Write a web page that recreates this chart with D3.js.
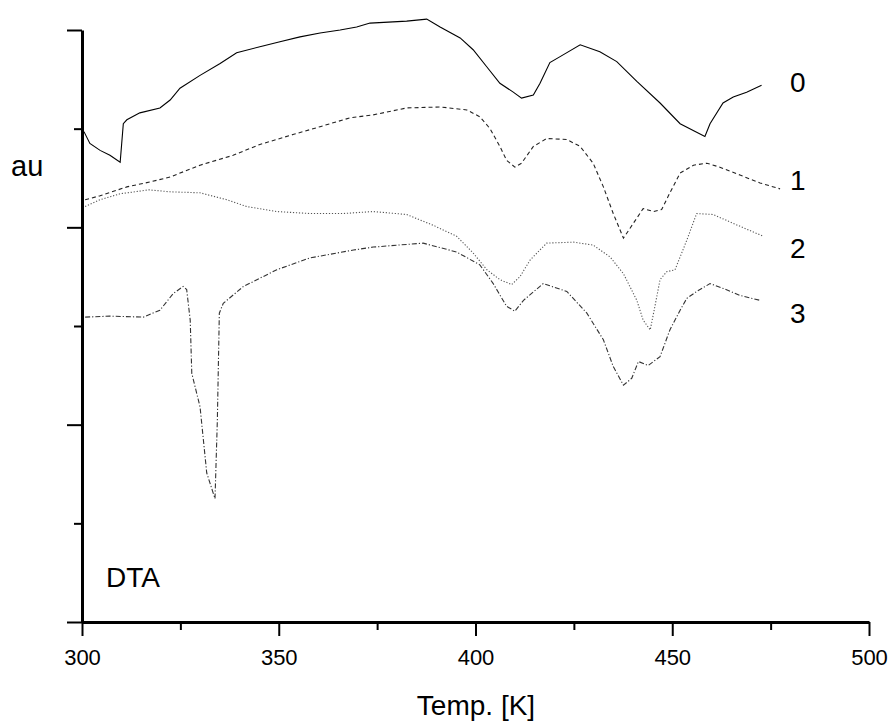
<!DOCTYPE html>
<html>
<head>
<meta charset="utf-8">
<script src="https://cdn.jsdelivr.net/npm/d3@7"></script>
<style>
  body { margin: 0; background: #fff; }
  svg { display: block; }
  text { font-family: "Liberation Sans", Arial, sans-serif; fill: #000; }
</style>
</head>
<body>
<div id="chart"></div>
<script>
// DTA curves, [temperature K, signal au]
var curve0 = [[300.5,49.7],[302,48.5],[304.6,47.8],[307.1,47.3],[309.7,46.6],[310.5,50.5],[311.4,50.9],
  [314.7,51.6],[319.8,52.1],[322.4,52.9],[324.9,54.1],[330,55.4],[335.1,56.6],[339.3,57.7],[345.2,58.3],
  [350.3,58.8],[355.4,59.3],[360.5,59.7],[365.6,60.0],[369.8,60.3],[373.2,60.7],[382.5,60.9],[387.6,61.1],
  [391,60.3],[396.1,59.2],[399.4,58.0],[402.8,56.3],[406.2,54.6],[409.6,53.7],[411.7,53.1],[414.7,53.4],
  [416.4,54.6],[418.9,56.7],[421.5,57.3],[426.6,58.5],[431.6,57.8],[435.9,56.8],[441,54.8],[446.9,52.6],
  [452,50.5],[458.3,49.2],[459.6,50.5],[462.9,52.6],[465.5,53.2],[468.9,53.7],[472.7,54.4]];

var curve1 = [[300.8,42.8],[304.6,43.2],[311.4,44.1],[317.3,44.6],[322.4,45.1],[330,46.3],[338.4,47.3],
  [345.2,48.4],[353.6,49.4],[360.5,50.2],[368.1,51.1],[374,51.4],[382.5,52.1],[391,52.2],[397.8,51.9],
  [401.1,51.2],[403.7,50.0],[406.2,48.2],[407.9,46.8],[410,46.1],[411.7,46.5],[414.7,48.2],[418.1,49.0],
  [423.2,48.9],[426.6,48.2],[429.9,46.5],[432.5,44.1],[435,41.4],[437.6,38.9],[440.1,40.4],[442.6,41.9],
  [445.2,41.6],[447.3,41.8],[449.4,43.5],[452,45.5],[455.4,46.3],[458.8,46.5],[462.1,46.1],[467.2,45.3],
  [472.3,44.5],[477.4,43.9]];

var curve2 = [[300.8,42.1],[304.6,42.8],[309.7,43.4],[317,43.8],[322.4,43.6],[330,43.5],[336.8,42.8],
  [341.9,42.1],[349.5,41.6],[357.9,41.4],[366.4,41.4],[374,41.6],[382.5,41.3],[389.3,40.2],[395.2,39.1],
  [399.4,37.4],[402.9,35.7],[406.2,34.7],[409.2,34.2],[411.3,35.0],[413.9,36.7],[418.1,38.4],[424.9,38.5],
  [429.9,38.2],[434.2,37.0],[437.6,35.3],[441,32.6],[442.6,30.6],[444.4,29.6],[445.6,32.0],[446.9,34.7],
  [448.6,35.5],[450.7,35.7],[452,37.0],[453.7,38.7],[456.2,41.4],[460.4,41.3],[465.5,40.4],[473.1,39.1]];

var curve3 = [[300.8,30.9],[307.1,31.0],[315.6,30.9],[319.8,31.6],[323.2,33.3],[325.7,34.0],[326.6,33.7],
  [327.5,30.6],[327.9,25.2],[330,21.8],[331.7,15.1],[333.8,12.5],[334.4,20.5],[334.9,31.3],[335.9,32.3],
  [341,34.0],[349.5,35.7],[357.9,36.9],[369,37.7],[374,38.0],[386.7,38.4],[395.2,37.5],[401.1,36.2],
  [404.5,34.3],[407.9,32.0],[410,31.5],[412.2,32.6],[417.2,34.3],[423.2,33.5],[428.3,31.3],[432.5,28.6],
  [435,25.9],[437.6,24.0],[439.7,24.7],[441.4,26.4],[443.9,26.0],[446.9,26.9],[449.4,29.6],[452,31.6],
  [453.7,32.8],[456.2,33.5],[459.6,34.3],[463,33.8],[467.2,33.1],[472.3,32.6]];

var curveNames = ["0", "1", "2", "3"];
var xMajor = [300, 350, 400, 450, 500];
var xMinor = [325, 375, 425, 475];
var yMajor = [0, 20, 40, 60];
var yMinor = [10, 30, 50];

var width = 892, height = 725;

var svg = d3.select("#chart")
  .append("svg")
  .attr("width", width)
  .attr("height", height);

var x = d3.scaleLinear().domain([300, 500]).range([82, 869]);
var y = d3.scaleLinear().domain([0, 60]).range([622, 30]);

// curves
var curves = [
  { data: curve0, color: "#000", dash: null },
  { data: curve1, color: "#222", dash: "4,3" },
  { data: curve2, color: "#555", dash: "1.2,1.8" },
  { data: curve3, color: "#333", dash: "5,2,1.2,2" }
];

var line = d3.line()
  .x(function(d) { return x(d[0]); })
  .y(function(d) { return y(d[1]); });

svg.selectAll(".curve")
  .data(curves)
  .enter()
  .append("path")
  .attr("class", "curve")
  .attr("d", function(d) { return line(d.data); })
  .attr("fill", "none")
  .attr("stroke", function(d) { return d.color; })
  .attr("stroke-width", 1.1)
  .attr("stroke-dasharray", function(d) { return d.dash; });

// x axis
var gx = svg.append("g")
  .attr("transform", "translate(0,622)")
  .call(d3.axisBottom(x).tickValues(xMajor).tickSize(14).tickSizeOuter(0).tickFormat(d3.format("d")));
gx.select(".domain").attr("stroke-width", 3);
gx.selectAll(".tick line").attr("stroke-width", 2);
gx.selectAll(".tick text")
  .attr("y", 43).attr("dy", 0)
  .style("font-size", "22px");

svg.append("g")
  .attr("transform", "translate(0,622)")
  .call(d3.axisBottom(x).tickValues(xMinor).tickSize(8).tickFormat(""))
  .call(function(g) { g.select(".domain").remove(); })
  .selectAll(".tick line").attr("stroke-width", 2);

// y axis
var gy = svg.append("g")
  .attr("transform", "translate(82,0)")
  .call(d3.axisLeft(y).tickValues(yMajor).tickSize(15).tickSizeOuter(0).tickFormat(""));
gy.select(".domain").attr("stroke-width", 3);
gy.selectAll(".tick line").attr("stroke-width", 2);

svg.append("g")
  .attr("transform", "translate(82,0)")
  .call(d3.axisLeft(y).tickValues(yMinor).tickSize(8).tickFormat(""))
  .call(function(g) { g.select(".domain").remove(); })
  .selectAll(".tick line").attr("stroke-width", 2);

// labels
svg.append("text").attr("x", 11).attr("y", 176).style("font-size", "29px").text("au");
svg.append("text").attr("x", 476).attr("y", 715).attr("text-anchor", "middle")
  .style("font-size", "28px").text("Temp. [K]");
svg.append("text").attr("x", 106).attr("y", 587).style("font-size", "28px").text("DTA");

var labelY = [92, 190, 258, 323];
svg.selectAll(".clabel")
  .data(curveNames)
  .enter()
  .append("text")
  .attr("class", "clabel")
  .attr("x", 790)
  .attr("y", function(d, i) { return labelY[i]; })
  .style("font-size", "28px")
  .text(function(d) { return d; });
</script>
</body>
</html>
